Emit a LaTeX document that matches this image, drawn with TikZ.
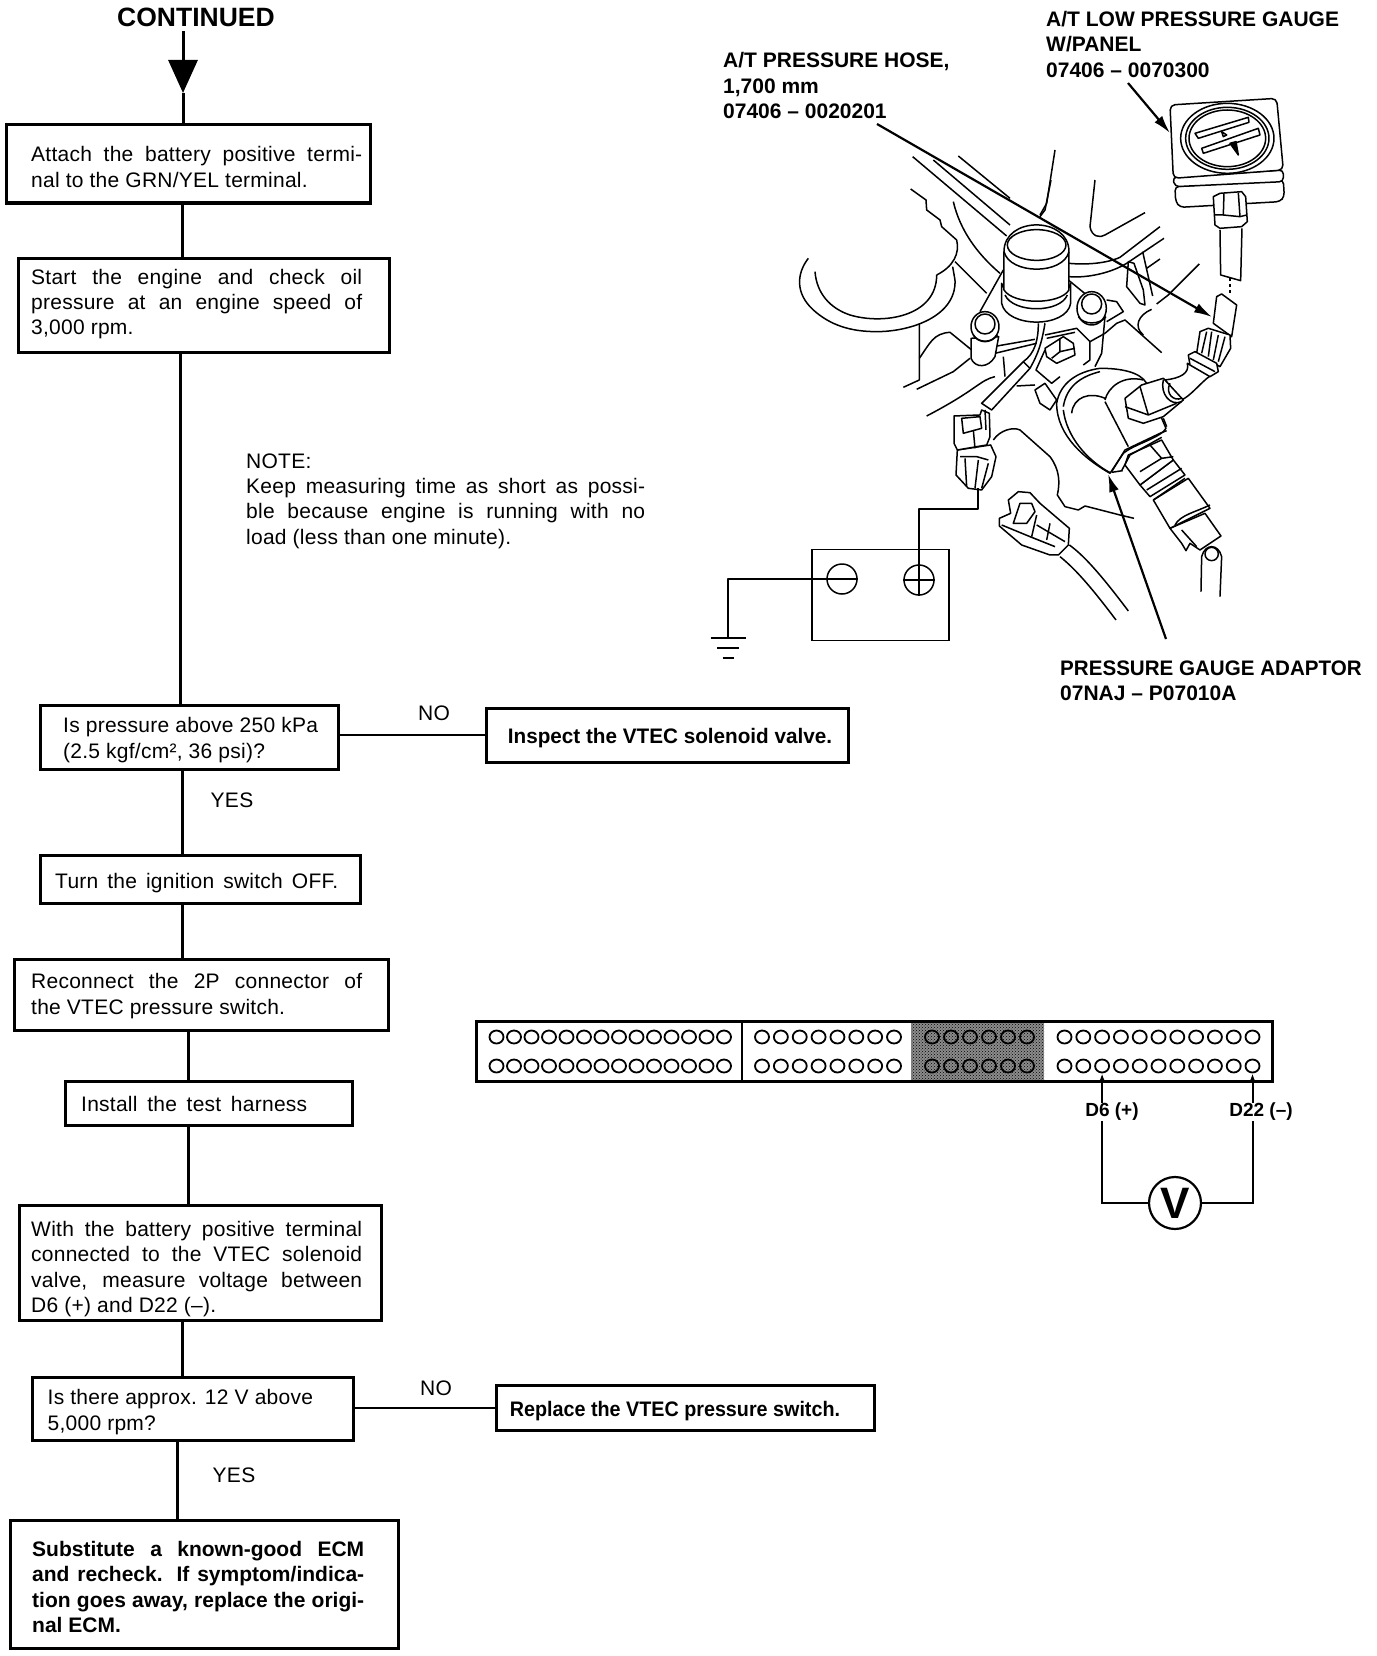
\documentclass[tikz,border=0pt]{standalone}
\usepackage{fontspec}
\setmainfont{Liberation Sans}[LetterSpace=1.2, BoldFeatures={LetterSpace=0}]
\usetikzlibrary{positioning, shapes.geometric, arrows.meta, calc, patterns}
\newcommand{\jline}[2][331pt]{\makebox[#1][s]{#2}}
\tikzset{
  stepbox/.style={draw=black, line width=3pt, inner sep=0pt},
  steptext/.style={anchor=west, align=left, inner sep=0pt, font=\fontsize{21}{25.4}\selectfont},
  boldtext/.style={anchor=west, align=left, inner sep=0pt, font=\fontsize{21}{25.4}\selectfont\bfseries},
  flowline/.style={line width=3pt},
  sideline/.style={line width=2pt},
  leadline/.style={line width=2.2pt, -{Latex[length=18pt,width=10pt]}},
  sketch/.style={line width=1.5pt, line join=round},
  whitepart/.style={sketch, fill=white},
  crop/.style 2 args={shift={(#1,#2)}, x=0.3333pt, y=-0.3333pt},
  terminal/.style={draw=black, fill=white, circle, line width=1.5pt, minimum size=30pt, inner sep=0pt},
  pinhole/.style={draw=black, ellipse, line width=1.8pt, minimum width=14pt, minimum height=13pt, inner sep=0pt}
}
\begin{document}
\begin{tikzpicture}[x=1pt, y=-1pt]
  \useasboundingbox (0,0) rectangle (1376,1656);

  % flow chart boxes
  \node[inner sep=0pt, font=\fontsize{26.5}{30}\selectfont\bfseries] (cont) at (196,17) {CONTINUED};
  \node[stepbox, minimum width=364pt, minimum height=78pt] (attach) at (188.5,164) {};
  \node[steptext] (attachtxt) at (31,167) {\jline{Attach the battery positive termi-}\\nal to the GRN/YEL terminal.};
  \node[stepbox, minimum width=371pt, minimum height=94pt] (start) at (203.5,305) {};
  \node[steptext] (starttxt) at (31,304) {\jline{Start the engine and check oil}\\\jline{pressure at an engine speed of}\\3,000 rpm.};
  \node[steptext] (notetxt) at (246,501) {NOTE:\\\jline[399pt]{Keep measuring time as short as possi-}\\\jline[399pt]{ble because engine is running with no}\\load (less than one minute).};
  \node[stepbox, minimum width=298pt, minimum height=64pt] (pressure) at (189,737) {};
  \node[steptext] (pressuretxt) at (63,740) {Is pressure above 250 kPa\\(2.5 kgf/cm², 36 psi)?};
  \node[stepbox, minimum width=362pt, minimum height=54pt] (inspect) at (667,735) {};
  \node[boldtext, anchor=center] (inspecttxt) at (670,738) {\scalebox{0.985}[1]{Inspect the VTEC solenoid valve.}};
  \node[stepbox, minimum width=320pt, minimum height=48pt] (turn) at (200,879) {};
  \node[steptext] (turntxt) at (55,883) {\jline[283pt]{Turn the ignition switch OFF.}};
  \node[stepbox, minimum width=374pt, minimum height=71pt] (reconnect) at (201,995) {};
  \node[steptext] (reconnecttxt) at (31,996) {\jline{Reconnect the 2P connector of}\\the VTEC pressure switch.};
  \node[stepbox, minimum width=287pt, minimum height=44pt] (install) at (208.5,1103.5) {};
  \node[steptext] (installtxt) at (81,1104) {\jline[226pt]{Install the test harness}};
  \node[stepbox, minimum width=362pt, minimum height=115pt] (measure) at (200,1263) {};
  \node[steptext] (measuretxt) at (31,1269) {\jline{With the battery positive terminal}\\\jline{connected to the VTEC solenoid}\\\jline{valve, measure voltage between}\\D6 (+) and D22 (–).};
  \node[stepbox, minimum width=321pt, minimum height=63pt] (approx) at (192.5,1409) {};
  \node[steptext] (approxtxt) at (47.5,1412) {Is there approx. 12 V above\\5,000 rpm?};
  \node[stepbox, minimum width=378pt, minimum height=45pt] (replace) at (685,1408) {};
  \node[boldtext, anchor=center] (replacetxt) at (675,1411) {\scalebox{0.94}[1]{Replace the VTEC pressure switch.}};
  \node[stepbox, minimum width=388pt, minimum height=128pt] (substitute) at (204,1584) {};
  \node[boldtext] (substitutetxt) at (32,1587) {\jline[332pt]{Substitute a known-good ECM}\\\jline[332pt]{and recheck. If symptom/indica-}\\\jline[332pt]{tion goes away, replace the origi-}\\nal ECM.};

  % flow chart connectors
  \coordinate (upperx) at (182,0);
  \coordinate (midx) at (188,0);
  \coordinate (lowx) at (177,0);
  \coordinate (linetop) at (183,31);
  \coordinate (tip) at (183,93);
  \draw[flowline, -{Triangle[length=33pt,width=29pt]}] (linetop) -- (tip);
  \draw[flowline] (tip) -- (tip |- attach.north);
  \draw[flowline] (upperx |- attach.south) -- (upperx |- start.north);
  \draw[flowline] ([xshift=-1.5pt]upperx |- start.south) -- ([xshift=-1.5pt]upperx |- pressure.north);
  \draw[flowline] (upperx |- pressure.south) -- (upperx |- turn.north);
  \draw[flowline] (upperx |- turn.south) -- (upperx |- reconnect.north);
  \draw[flowline] (midx |- reconnect.south) -- (midx |- install.north);
  \draw[flowline] (midx |- install.south) -- (midx |- measure.north);
  \draw[flowline] (upperx |- measure.south) -- (upperx |- approx.north);
  \draw[flowline] (lowx |- approx.south) -- (lowx |- substitute.north);
  \draw[sideline] (pressure.east |- inspect) -- (inspect.west);
  \draw[sideline] (approx.east |- replace) -- (replace.west);
  \node[steptext, anchor=center] (noa) at (434,713) {NO};
  \node[steptext, anchor=center] (yesa) at (232,800) {YES};
  \node[steptext, anchor=center] (nob) at (436,1388) {NO};
  \node[steptext, anchor=center] (yesb) at (234,1475) {YES};

  % ecm connector
  \fill[black!45] (911,1021) rectangle (1044,1081);
  \fill[pattern=crosshatch dots, pattern color=black] (911,1021) rectangle (1044,1081);
  \node[stepbox, minimum width=796pt, minimum height=60pt] (ecm) at (874,1051) {};
  \draw[sideline] (742,1021) -- (742,1081);
  \foreach \grp/\startx/\gap/\last in {A/496.5/17.5/13, B/762/18.86/7, C/932/19/5, D/1064.5/18.8/10}
    \foreach \i in {0,...,\last}
      \foreach \rowy in {1037,1066}
        \node[pinhole] (pin\grp\rowy-\i) at ({\startx+\i*\gap},\rowy) {};
  \node[boldtext, anchor=center, font=\fontsize{19}{22}\selectfont\bfseries] (dsix) at (1112,1112) {D6 (+)};
  \node[boldtext, anchor=center, font=\fontsize{19}{22}\selectfont\bfseries] (dtwo) at (1261,1112) {D22 (–)};
  \node[draw=black, circle, line width=2.2pt, minimum size=52pt, inner sep=0pt, font=\fontsize{44}{44}\selectfont\bfseries] (vm) at (1175,1203) {V};
  \draw[sideline, -{Latex[length=9pt,width=7pt]}] (dsix.north -| pinD1066-2) -- (pinD1066-2.south);
  \draw[sideline, -{Latex[length=9pt,width=7pt]}] (dtwo.north -| pinD1066-10) -- (pinD1066-10.south);
  \draw[sideline] (dsix.south -| pinD1066-2) -- (pinD1066-2 |- vm) -- (vm.west);
  \draw[sideline] (dtwo.south -| pinD1066-10) -- (pinD1066-10 |- vm) -- (vm.east);

  % labels of the sketch
  \node[boldtext] (gaugetxt) at (1046,44.5) {A/T LOW PRESSURE GAUGE\\W/PANEL\\07406 – 0070300};
  \node[boldtext] (hosetxt) at (723,85.5) {A/T PRESSURE HOSE,\\1,700 mm\\07406 – 0020201};
  \node[boldtext] (adaptortxt) at (1060,681) {\scalebox{0.98}[1]{PRESSURE GAUGE ADAPTOR}\\07NAJ – P07010A};

  % engine, left part
  \begin{scope}[crop={790}{130}]
    \draw[sketch] (55,385) .. controls (20,430) and (15,490) .. (70,540) .. controls (120,585) and (180,605) .. (260,605) .. controls (360,605) and (500,560) .. (495,450) -- (488,410);
    \draw[sketch] (75,425) .. controls (80,490) and (120,535) .. (180,555) .. controls (280,585) and (440,560) .. (440,435);
    \draw[sketch] (362,177) -- (408,210) -- (410,240) -- (450,270) -- (455,290) -- (500,330) .. controls (510,370) and (490,410) .. (440,435);
    \draw[sketch] (495,395) -- (590,490);
    \draw[sketch] (368,80) -- (650,318);
    \draw[sketch] (430,90) -- (660,285);
    \draw[sketch] (505,78) -- (660,205);
    \draw[sketch] (490,215) .. controls (510,300) and (560,370) .. (630,430);
    \draw[sketch] (640,420) -- (570,545);
    \draw[sketch] (388,580) -- (388,750) -- (340,772);
    \draw[sketch] (388,685) .. controls (420,640) and (430,610) .. (480,607) -- (545,660);
    \draw[sketch] (380,778) -- (490,725) -- (540,685);
  \end{scope}

  % engine, middle part with solenoid, bolts and adaptor
  \begin{scope}[crop={860}{180}]
    \draw[sketch] (573,0) -- (555,90) -- (540,110);
    \draw[sketch] (705,0) -- (690,140) .. controls (695,170) and (720,175) .. (735,165) -- (855,98);
    \draw[sketch] (627,250) .. controls (680,255) and (740,250) .. (780,232) -- (900,140);
    \draw[sketch] (627,290) .. controls (690,295) and (760,275) .. (800,250) -- (912,175);
    \draw[sketch] (625,300) -- (680,345);
    \draw[sketch] (805,245) -- (800,320) -- (840,370) -- (855,375) -- (850,330) -- (822,250) -- cycle;
    \draw[sketch] (848,215) -- (878,348);
    \draw[sketch] (860,265) -- (900,237);
    \draw[sketch] (1018,252) -- (925,345) -- (890,372);
    \draw[sketch] (875,388) .. controls (835,405) and (820,440) .. (850,465);
    \draw[sketch] (905,518) -- (795,420) -- (770,430) -- (735,460);
    \draw[sketch] (740,360) -- (770,365) -- (790,395) -- (740,425);
    % flange
    \draw[sketch] (735,410) -- (725,520) -- (705,560);
    \draw[sketch] (690,485) -- (690,540) -- (670,555);
    \draw[sketch] (400,500) -- (525,478);
    \draw[sketch] (405,520) -- (530,490);
    \draw[sketch] (555,465) -- (650,445) -- (690,485) -- (735,460);
    \draw[sketch] (560,475) -- (645,457);
    \draw[sketch] (430,530) -- (435,590);
    \draw[sketch] (405,590) .. controls (360,600) and (350,630) .. (200,708);
    \draw[sketch] (555,510) -- (528,570) -- (575,610) -- (600,590);
    \draw[sketch] (470,618) -- (525,615);
    \draw[whitepart] (555,505) -- (610,470) -- (640,490) -- (645,525) -- (590,550) -- (560,530) -- cycle;
    \draw[sketch] (600,475) -- (600,515) -- (645,505);
    \draw[sketch] (600,515) -- (575,535);
    \draw[whitepart] (525,630) -- (555,610) -- (590,660) -- (570,690) -- (540,670) -- cycle;
    % left bolt
    \draw[whitepart] (333,475) -- (333,535) .. controls (345,565) and (385,565) .. (405,530) -- (416,470) -- cycle;
    \draw[whitepart] (375,440) ellipse (42 and 45);
    \draw[sketch] (375,432) ellipse (30 and 30);
    \draw[sketch] (340,465) .. controls (355,490) and (395,490) .. (412,465);
    % right bolt
    \draw[whitepart] (695,385) ellipse (44 and 50);
    \draw[sketch] (695,372) ellipse (30 and 30);
    \draw[sketch] (655,410) .. controls (670,435) and (720,435) .. (738,410);
    % solenoid
    \draw[whitepart] (425,310) -- (425,370) .. controls (440,445) and (620,445) .. (632,370) -- (632,310) .. controls (620,370) and (440,370) .. (425,310) -- cycle;
    \draw[sketch] (435,345) .. controls (460,400) and (600,400) .. (622,345);
    \draw[whitepart] (432,330) -- (432,215) .. controls (432,108) and (627,108) .. (627,215) -- (627,330) .. controls (600,375) and (460,375) .. (432,330) -- cycle;
    \draw[sketch] (432,215) .. controls (450,285) and (610,285) .. (627,215);
    \draw[sketch] (530,195) ellipse (88 and 46);
    % wire with its sleeve
    \draw[sketch] (555,430) .. controls (545,490) and (535,520) .. (510,565);
    \draw[sketch] (535,430) .. controls (535,480) and (525,520) .. (490,545);
    \draw[whitepart] (490,545) -- (365,670) -- (395,690) -- (510,565) -- cycle;
    % adaptor
    \draw[whitepart] (590,670) .. controls (600,610) and (650,575) .. (720,565) .. controls (780,565) and (840,575) .. (860,610) -- (918,745) -- (910,755) .. controls (880,780) and (820,795) .. (790,820) -- (750,880) .. controls (680,840) and (590,770) .. (590,670);
    \draw[sketch] (610,680) .. controls (620,620) and (660,590) .. (720,575);
    \draw[sketch] (635,700) .. controls (640,650) and (690,635) .. (735,655);
    \draw[sketch] (610,690) .. controls (620,770) and (680,840) .. (750,878);
    \draw[sketch] (735,660) .. controls (745,620) and (790,585) .. (850,600);
    \draw[sketch] (735,665) -- (805,800);
  \end{scope}

  % gauge, hose and coupler
  \begin{scope}[crop={1000}{90}]
    \draw[sketch] (165,180) -- (140,340) -- (120,375);
    \draw[whitepart, rounded corners=4pt] (525,290) -- (527,335) -- (540,352) -- (840,335) -- (853,320) -- (850,270) -- cycle;
    \draw[whitepart, rounded corners=4pt] (518,262) -- (525,290) -- (850,275) -- (850,240) -- cycle;
    \draw[whitepart, rounded corners=5pt] (510,45) -- (830,25) -- (850,240) -- (520,265) -- cycle;
    \draw[sketch] (682,145) ellipse (140 and 105);
    \draw[sketch] (682,145) ellipse (125 and 93);
    \draw[sketch] (682,145) ellipse (115 and 85);
    \draw[sketch] (585,130) -- (745,82) -- (747,97) -- (595,145) -- cycle;
    \draw[sketch] (605,175) -- (775,115) -- (780,135) -- (610,190) -- cycle;
    \draw[fill=black, sketch] (690,160) -- (715,195) -- (708,155) -- cycle;
    \draw[sketch] (665,125) -- (680,135) -- (670,140) -- cycle;
    \draw[whitepart] (640,320) -- (660,310) -- (725,305) -- (737,320) -- (742,395) -- (725,410) -- (660,415) -- (645,405) -- cycle;
    \draw[sketch] (672,310) -- (670,375);
    \draw[sketch] (715,308) -- (720,380);
    \draw[sketch] (645,375) -- (670,375) -- (720,380) -- (740,375);
    \draw[sketch] (660,420) -- (662,555) -- (722,572) -- (726,415);
    \draw[sketch, dashed] (690,565) -- (690,615);
    \draw[whitepart] (640,700) -- (650,620) -- (665,612) -- (710,645) -- (695,740) -- cycle;
    \draw[whitepart] (600,725) -- (625,715) -- (690,735) -- (692,775) -- (660,830) -- (590,790) -- cycle;
    \draw[sketch] (620,725) -- (605,790);
    \draw[sketch] (635,725) -- (625,800);
    \draw[sketch] (655,735) -- (640,810);
    \draw[sketch] (675,740) -- (655,815);
    \draw[whitepart] (562,820) .. controls (570,850) and (540,865) .. (495,870) -- (545,930) .. controls (575,915) and (600,880) .. (630,858) -- cycle;
    \draw[whitepart] (565,795) -- (585,785) -- (650,820) -- (655,845) -- (630,860) -- (570,825) -- cycle;
    \draw[sketch] (570,805) -- (645,845);
    \draw[whitepart] (375,925) -- (425,885) -- (490,865) -- (550,930) -- (490,980) -- (430,1000) -- (385,985) -- cycle;
    \draw[sketch] (420,890) -- (445,975);
    \draw[sketch] (375,950) -- (445,975) -- (530,940);
    \draw[sketch] (490,870) .. controls (480,910) and (510,950) .. (545,935);
    \draw[sketch] (510,880) .. controls (495,910) and (520,935) .. (545,925);
    \draw[sketch] (490,985) -- (500,1010);
  \end{scope}

  % harness, pressure switch and loose connector
  \begin{scope}[crop={940}{400}]
    \draw[sketch] (160,120) .. controls (180,90) and (220,80) .. (240,90) -- (330,170) .. controls (360,210) and (360,250) .. (352,285) -- (375,320) -- (415,330) -- (435,318) -- (540,345) -- (582,355);
    \draw[whitepart] (178,355) -- (178,378) -- (245,435) -- (330,465) -- (355,465) -- (385,435) -- (388,385) -- (300,310) -- (270,278) -- (235,275) -- (205,300) -- (212,340) -- cycle;
    \draw[sketch] (220,370) -- (240,310) -- (275,310) -- (285,335) -- (260,370) -- cycle;
    \draw[sketch] (290,345) -- (275,410);
    \draw[sketch] (330,370) -- (320,420);
    \draw[sketch] (290,375) -- (375,425);
    \draw[sketch] (185,375) -- (270,410) -- (345,440);
    \draw[sketch] (388,435) .. controls (430,465) and (480,520) .. (565,633);
    \draw[sketch] (360,470) .. controls (410,510) and (460,570) .. (528,660);
    % pressure switch
    \draw[whitepart] (783,575) -- (785,470) .. controls (795,430) and (835,430) .. (845,470) -- (840,590);
    \draw[sketch] (815,462) ellipse (20 and 20);
    \draw[whitepart] (690,385) -- (725,430) -- (738,452) -- (750,430) -- (780,450) -- (843,408) -- (795,340) -- cycle;
    \draw[sketch] (725,390) -- (770,440);
    \draw[whitepart] (640,300) -- (690,385) -- (810,325) -- (745,235) -- cycle;
    \draw[sketch] (705,375) .. controls (720,345) and (770,335) .. (810,315);
    \draw[whitepart] (600,255) -- (630,290) -- (735,225) -- (700,180) -- cycle;
    \draw[sketch] (620,270) -- (725,205);
    \draw[sketch] (640,300) -- (735,235);
    \draw[whitepart] (555,195) -- (600,255) -- (700,180) -- (665,120) -- (565,165) -- cycle;
    \draw[sketch] (630,135) -- (665,175) -- (700,170);
    \draw[sketch] (600,215) -- (665,175);
    \draw[sketch] (515,215) -- (555,150) -- (660,100) -- (680,92);
    \draw[sketch] (545,212) -- (570,165) -- (665,112);
    \draw[sketch] (515,217) -- (548,212);
  \end{scope}

  % connector on the solenoid lead
  \begin{scope}[crop={860}{180}]
    \draw[whitepart] (292,810) -- (288,885) -- (325,925) -- (365,930) -- (395,890) -- (408,830) -- (392,795) -- cycle;
    \draw[sketch] (300,830) -- (350,830) -- (385,840);
    \draw[sketch] (315,835) -- (320,920);
    \draw[sketch] (355,840) -- (345,925);
    \draw[sketch] (385,850) -- (365,925);
    \draw[whitepart] (282,708) -- (282,790) -- (292,810) -- (380,795) -- (390,770) -- (388,700) -- (365,690) -- (360,705) -- cycle;
    \draw[sketch] (305,715) -- (360,710) -- (365,745) -- (310,760) -- cycle;
    \draw[sketch] (340,750) -- (345,805);
    \draw[sketch] (375,690) -- (378,750);
  \end{scope}

  % leaders
  \coordinate (gaugefrom) at (1128,83);
  \coordinate (gaugetip) at (1170,133);
  \coordinate (hosefrom) at (877,124);
  \coordinate (hosetip) at (1212,317);
  \coordinate (adaptorfrom) at (1166,639);
  \coordinate (adaptortip) at (1108,474);
  \draw[leadline] (gaugefrom) -- (gaugetip);
  \draw[leadline] (hosefrom) -- (hosetip);
  \draw[leadline] (adaptorfrom) -- (adaptortip);

  % battery and ground
  \node[draw=black, line width=1.5pt, minimum width=137pt, minimum height=91pt, inner sep=0pt] (battery) at (880.5,595) {};
  \node[terminal] (minusterm) at (842,579) {};
  \node[terminal] (plusterm) at (919,580) {};
  \draw[sketch] (minusterm.west) -- (minusterm.east);
  \draw[sketch] (plusterm.west) -- (plusterm.east);
  \draw[sketch] (plusterm.north) -- (plusterm.south);
  \coordinate (plugend) at (978,488);
  \coordinate (earth) at (728,638);
  \draw[sketch] (plugend) -- (978,509) -- (plusterm |- 0,509) -- (plusterm.north);
  \draw[sketch] (minusterm.west) -- (earth |- minusterm) -- (earth);
  \draw[line width=2.5pt] ([xshift=-17.5pt]earth) -- ([xshift=17.5pt]earth);
  \draw[sketch] ([xshift=-11pt,yshift=-10pt]earth) -- ([xshift=11pt,yshift=-10pt]earth);
  \draw[sketch] ([xshift=-5.5pt,yshift=-20pt]earth) -- ([xshift=5.5pt,yshift=-20pt]earth);
\end{tikzpicture}
\end{document}
